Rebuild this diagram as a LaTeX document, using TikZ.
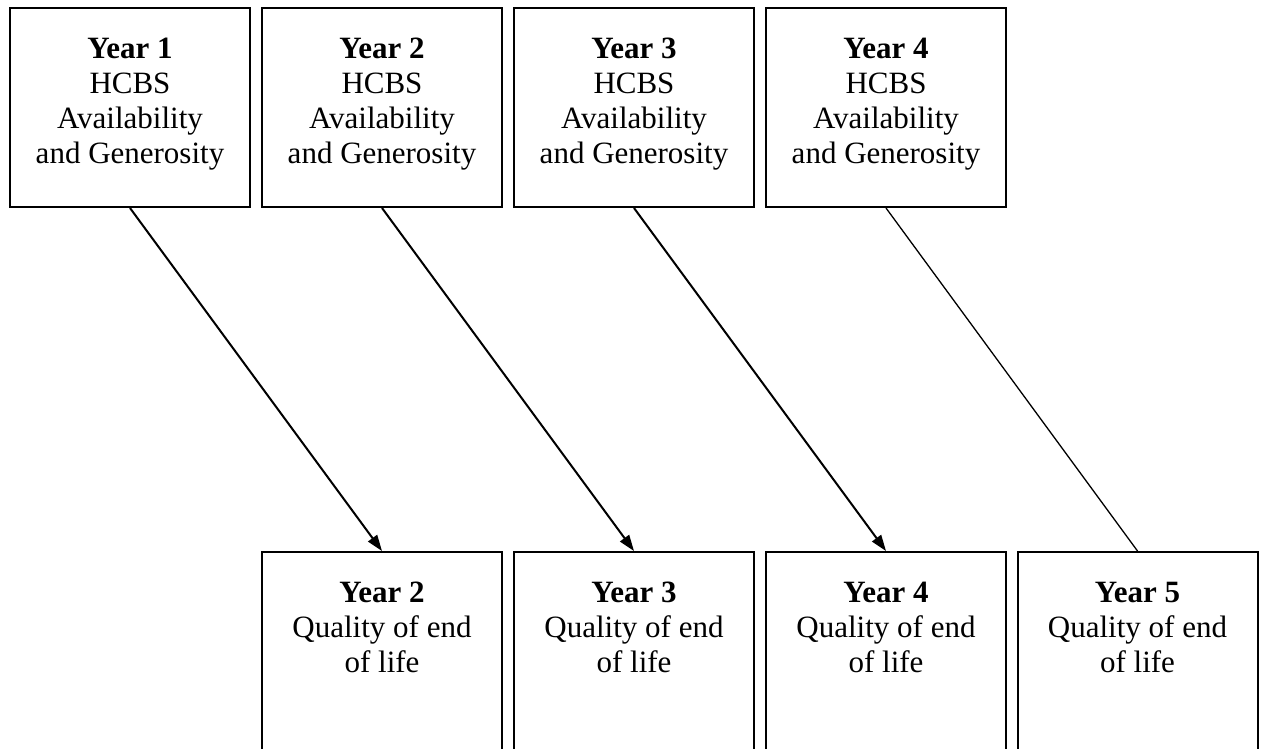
\documentclass[tikz,border=0pt]{standalone}
\usepackage{fontspec}
\setmainfont{Liberation Serif}
\usetikzlibrary{arrows.meta}
\begin{document}
\begin{tikzpicture}[x=1pt,y=-1pt,
  topbox/.style={draw,line width=2pt,minimum width=240pt,minimum height=199pt,inner sep=0pt},
  botbox/.style={draw,line width=2pt,minimum width=240pt,minimum height=260pt,inner sep=0pt},
  txt/.style={anchor=north,align=center,inner sep=0pt,font=\fontsize{31}{35}\selectfont},
  link/.style={line width=2pt,-{Triangle[length=16pt,width=11pt]}},
  plainlink/.style={line width=1.3pt}]
\useasboundingbox (0,0) rectangle (1262,749);
% top boxes
\node[topbox] (t1) at (130,107.5) {};
\node[topbox] (t2) at (382,107.5) {};
\node[topbox] (t3) at (634,107.5) {};
\node[topbox] (t4) at (886,107.5) {};
\node[txt] (tt1) at ([yshift=-31pt]t1.north) {\textbf{Year 1}\\HCBS\\Availability\\and Generosity};
\node[txt] (tt2) at ([yshift=-31pt]t2.north) {\textbf{Year 2}\\HCBS\\Availability\\and Generosity};
\node[txt] (tt3) at ([yshift=-31pt]t3.north) {\textbf{Year 3}\\HCBS\\Availability\\and Generosity};
\node[txt] (tt4) at ([yshift=-31pt]t4.north) {\textbf{Year 4}\\HCBS\\Availability\\and Generosity};
% bottom boxes
\node[botbox] (b2) at (382,682) {};
\node[botbox] (b3) at (634,682) {};
\node[botbox] (b4) at (886,682) {};
\node[botbox] (b5) at (1137.5,682) {};
\node[txt] (bt2) at ([yshift=-31pt]b2.north) {\textbf{Year 2}\\Quality of end\\of life};
\node[txt] (bt3) at ([yshift=-31pt]b3.north) {\textbf{Year 3}\\Quality of end\\of life};
\node[txt] (bt4) at ([yshift=-31pt]b4.north) {\textbf{Year 4}\\Quality of end\\of life};
\node[txt] (bt5) at ([yshift=-31pt]b5.north) {\textbf{Year 5}\\Quality of end\\of life};
% connectors
\draw[link] (t1.south) -- (b2.north);
\draw[link] (t2.south) -- (b3.north);
\draw[link] (t3.south) -- (b4.north);
\draw[plainlink] (t4.south) -- (b5.north);
\end{tikzpicture}
\end{document}
